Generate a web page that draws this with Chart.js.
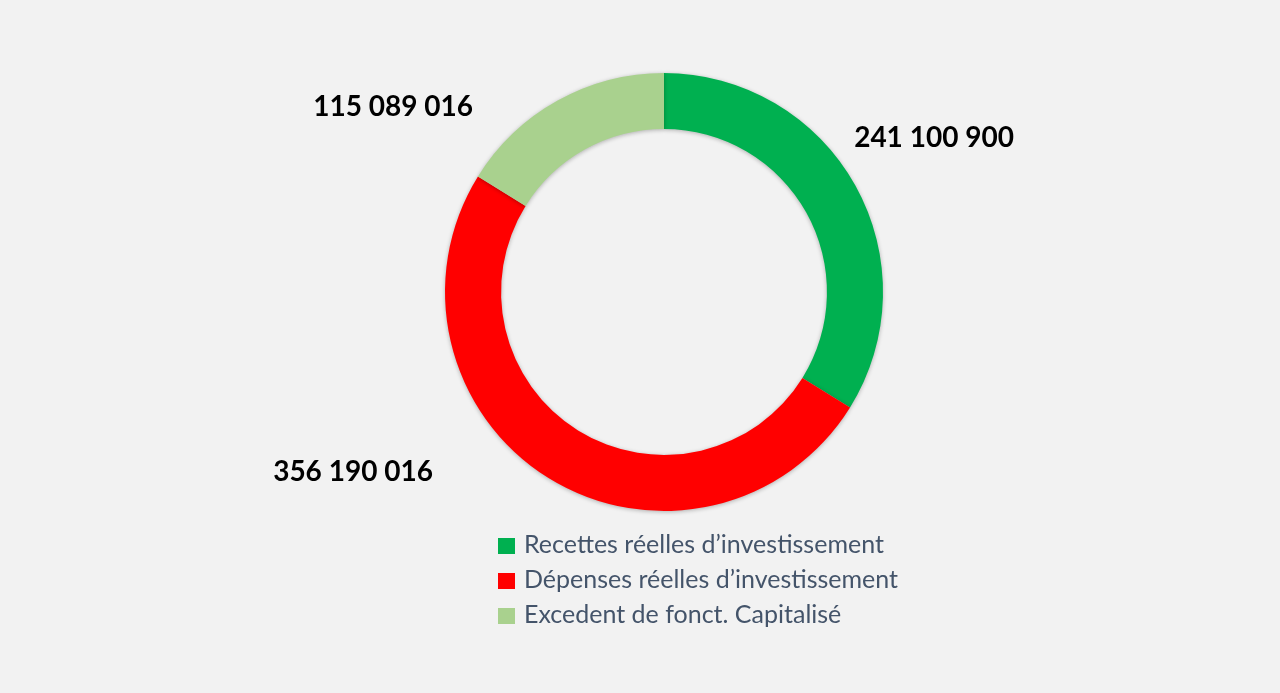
<!DOCTYPE html>
<html>
<head>
<meta charset="utf-8">
<script src="https://cdn.jsdelivr.net/npm/chart.js@4.4.1/dist/chart.umd.min.js"></script>
<style>
  html, body { margin: 0; padding: 0; background: #f2f2f2; }
  .wrap { position: relative; width: 1280px; height: 693px; }
  #chart { position: absolute; left: 0; top: 0; }
  .legend { position: absolute; left: 498px; top: 526px; font-family: Lato, sans-serif; font-size: 25px; color: #44546a; }
  .legend div { height: 35px; line-height: 35px; white-space: nowrap; }
  .legend span { display: inline-block; width: 17px; height: 16px; margin-right: 9px; vertical-align: -1px; }
</style>
</head>
<body>
<div class="wrap">
  <canvas id="chart" width="1280" height="693"></canvas>
  <div class="legend" id="legend"></div>
</div>
<script>
'use strict'

// catégories
const labels = ['Recettes réelles d\u2019investissement', 'Dépenses réelles d\u2019investissement', 'Excedent de fonct. Capitalisé'];
// valeurs
const values = [241100900, 356190016, 115089016];
// couleurs des parts
const colors = ['#00b050', '#ff0000', '#a9d18e'];
// position des étiquettes (multiple du rayon extérieur, depuis le centre)
const labelPos = [[1.233, -0.703], [-1.42, 0.822], [-1.237, -0.845]];

// format 241 100 900
function fmt(v){
    return String(v).replace(/\B(?=(\d{3})+(?!\d))/g, ' ');
}

// ombre légère sous l'anneau
const shadowPlugin = {
    id: 'shadow',
    beforeDatasetDraw(chart){
        const ctx = chart.ctx;
        ctx.save();
        ctx.shadowColor = 'rgba(0,0,0,0.28)';
        ctx.shadowBlur = 4;
        ctx.shadowOffsetY = 1;
    },
    afterDatasetDraw(chart){
        chart.ctx.restore();
    }
};

// étiquettes de valeurs
const valuePlugin = {
    id: 'values',
    afterDraw(chart){
        const ctx = chart.ctx;
        const meta = chart.getDatasetMeta(0);
        ctx.save();
        ctx.font = 'bold 28px Lato, sans-serif';
        ctx.fillStyle = '#000';
        ctx.textAlign = 'center';
        ctx.textBaseline = 'middle';
        meta.data.forEach((arc, i) => {
            const r = arc.outerRadius;
            ctx.fillText(fmt(values[i]), arc.x + labelPos[i][0] * r, arc.y + labelPos[i][1] * r);
        });
        ctx.restore();
    }
};

const chart = new Chart(document.getElementById('chart'), {
    type: 'doughnut',
    data: {
        labels: labels,
        datasets: [{
            data: values,
            backgroundColor: colors,
            borderWidth: 0
        }]
    },
    options: {
        responsive: false,
        animation: false,
        cutout: '74.4%',
        layout: { padding: { left: 445, right: 397, top: 73, bottom: 182 } },
        plugins: {
            legend: { display: false },
            tooltip: { enabled: false }
        }
    },
    plugins: [shadowPlugin, valuePlugin]
});

// légende
const legend = document.getElementById('legend');
labels.forEach((item, i) => {
    const row = document.createElement('div');
    const box = document.createElement('span');
    box.style.background = colors[i];
    row.appendChild(box);
    row.appendChild(document.createTextNode(item));
    legend.appendChild(row);
});
</script>
</body>
</html>
